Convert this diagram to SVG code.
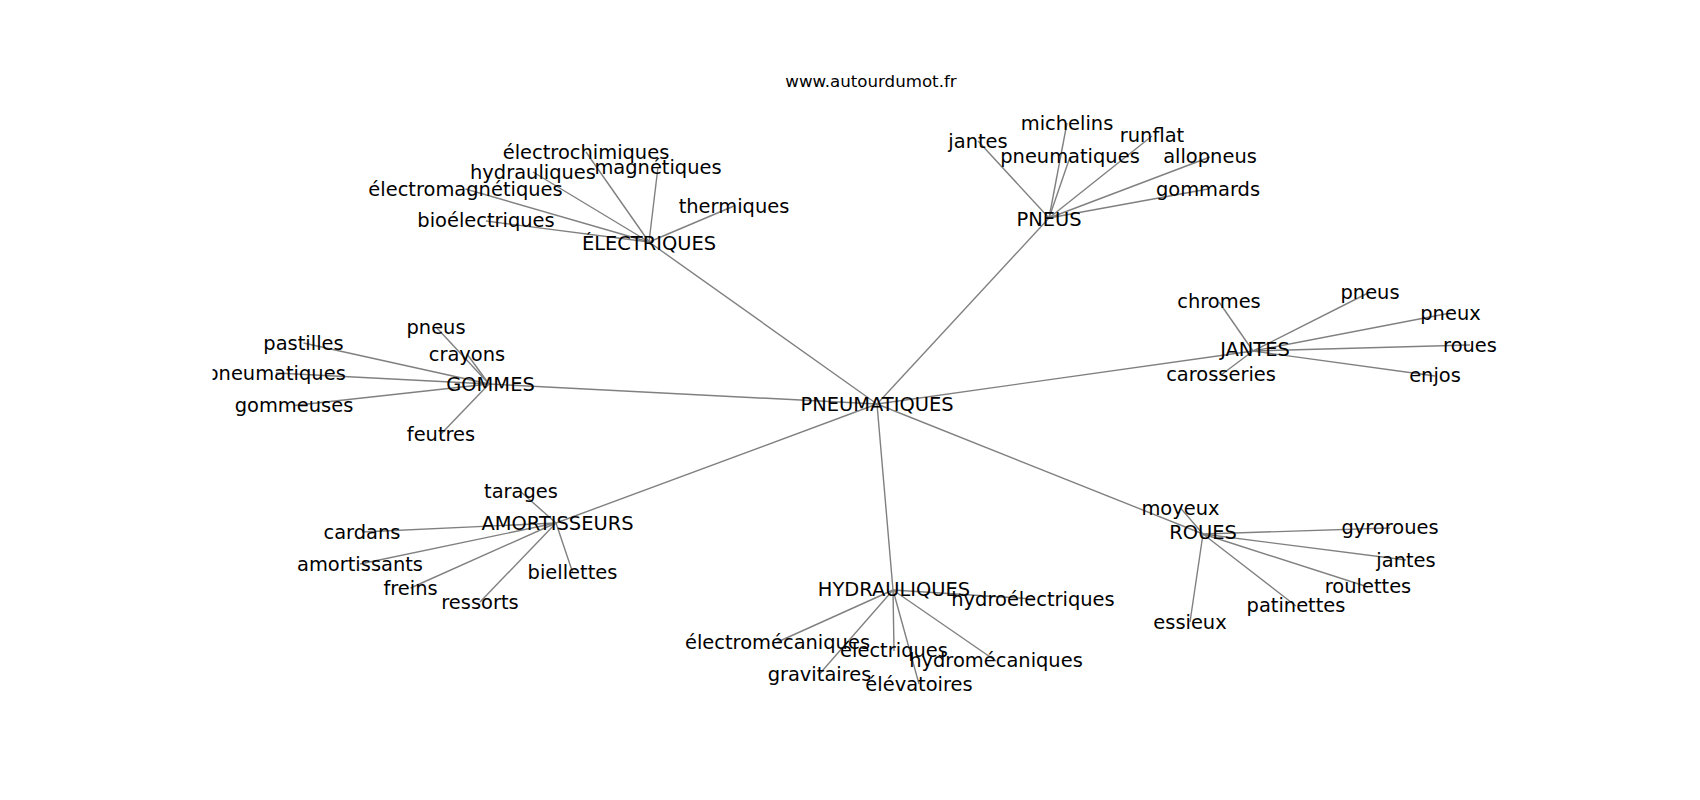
<svg xmlns="http://www.w3.org/2000/svg" width="1700" height="800" viewBox="0 0 1700 800">
<style>
  text { font-family: "DejaVu Sans", "Liberation Sans", sans-serif; font-size: 19.44px; fill: #000; text-anchor: middle; }
  .title { font-size: 16.67px; }
  #edges line { stroke: #808080; stroke-width: 1.4; }
</style>
<defs>
  <clipPath id="ax"><rect x="212.5" y="96" width="1317.5" height="616"/></clipPath>
</defs>
<rect width="1700" height="800" fill="#fff"/>
<text class="title" x="871" y="86.7">www.autourdumot.fr</text>
<g id="edges">
  <line x1="877" y1="404" x2="649" y2="242"/>
  <line x1="877" y1="404" x2="1049" y2="218"/>
  <line x1="877" y1="404" x2="489" y2="384"/>
  <line x1="877" y1="404" x2="1253" y2="351"/>
  <line x1="877" y1="404" x2="556" y2="523"/>
  <line x1="877" y1="404" x2="893" y2="590"/>
  <line x1="877" y1="404" x2="1203" y2="534"/>
  <line x1="649" y1="242" x2="586" y2="152"/>
  <line x1="649" y1="242" x2="533" y2="172"/>
  <line x1="649" y1="242" x2="658" y2="167"/>
  <line x1="649" y1="242" x2="465.5" y2="189"/>
  <line x1="649" y1="242" x2="734" y2="206"/>
  <line x1="649" y1="242" x2="486" y2="221"/>
  <line x1="1049" y1="218" x2="978" y2="141"/>
  <line x1="1049" y1="218" x2="1067" y2="123"/>
  <line x1="1049" y1="218" x2="1152" y2="136"/>
  <line x1="1049" y1="218" x2="1070" y2="157"/>
  <line x1="1049" y1="218" x2="1210" y2="157"/>
  <line x1="1049" y1="218" x2="1208" y2="189"/>
  <line x1="489" y1="384" x2="436" y2="327"/>
  <line x1="489" y1="384" x2="303.5" y2="343"/>
  <line x1="489" y1="384" x2="467" y2="354"/>
  <line x1="489" y1="384" x2="276" y2="373"/>
  <line x1="489" y1="384" x2="294" y2="405.5"/>
  <line x1="489" y1="384" x2="441" y2="434"/>
  <line x1="1253" y1="351" x2="1219" y2="302"/>
  <line x1="1253" y1="351" x2="1221" y2="375"/>
  <line x1="1253" y1="351" x2="1370" y2="292"/>
  <line x1="1253" y1="351" x2="1450.5" y2="313"/>
  <line x1="1253" y1="351" x2="1470" y2="345"/>
  <line x1="1253" y1="351" x2="1435" y2="376"/>
  <line x1="556" y1="523" x2="521" y2="492"/>
  <line x1="556" y1="523" x2="362" y2="532"/>
  <line x1="556" y1="523" x2="360" y2="564"/>
  <line x1="556" y1="523" x2="410.5" y2="588"/>
  <line x1="556" y1="523" x2="480" y2="602"/>
  <line x1="556" y1="523" x2="572.5" y2="572"/>
  <line x1="893" y1="590" x2="1033" y2="599"/>
  <line x1="893" y1="590" x2="777.5" y2="642"/>
  <line x1="893" y1="590" x2="894" y2="651"/>
  <line x1="893" y1="590" x2="996" y2="661"/>
  <line x1="893" y1="590" x2="819.5" y2="674"/>
  <line x1="893" y1="590" x2="919" y2="684"/>
  <line x1="1203" y1="534" x2="1180.5" y2="508"/>
  <line x1="1203" y1="534" x2="1190" y2="622"/>
  <line x1="1203" y1="534" x2="1296" y2="606"/>
  <line x1="1203" y1="534" x2="1390" y2="528"/>
  <line x1="1203" y1="534" x2="1406" y2="560"/>
  <line x1="1203" y1="534" x2="1368" y2="587"/>
</g>
<g clip-path="url(#ax)">
  <g id="n-pneumatiques-c"><text x="877" y="410.5">PNEUMATIQUES</text></g>
  <g id="n-electriques"><text x="649" y="249.5">ÉLECTRIQUES</text></g>
  <g id="n-electrochimiques"><text x="586" y="158.5">électrochimiques</text></g>
  <g id="n-hydrauliques-e"><text x="533" y="178.5">hydrauliques</text></g>
  <g id="n-magnetiques"><text x="658" y="173.5">magnétiques</text></g>
  <g id="n-electromagnetiques"><text x="465.5" y="195.5">électromagnétiques</text></g>
  <g id="n-thermiques"><text x="734" y="212.5">thermiques</text></g>
  <g id="n-bioelectriques"><text x="486" y="227">bioélectriques</text></g>
  <g id="n-pneus"><text x="1049" y="225.5">PNEUS</text></g>
  <g id="n-jantes-p"><text x="978" y="147.5">jantes</text></g>
  <g id="n-michelins"><text x="1067" y="129.5">michelins</text></g>
  <g id="n-runflat"><text x="1152" y="142">runflat</text></g>
  <g id="n-pneumatiques-p"><text x="1070" y="163">pneumatiques</text></g>
  <g id="n-allopneus"><text x="1210" y="163">allopneus</text></g>
  <g id="n-gommards"><text x="1208" y="195.5">gommards</text></g>
  <g id="n-jantes"><text x="1255" y="356">JANTES</text></g>
  <g id="n-chromes"><text x="1219" y="308">chromes</text></g>
  <g id="n-carosseries"><text x="1221" y="381">carosseries</text></g>
  <g id="n-pneus-j"><text x="1370" y="298.5">pneus</text></g>
  <g id="n-pneux"><text x="1450.5" y="319.5">pneux</text></g>
  <g id="n-roues-j"><text x="1470" y="351.5">roues</text></g>
  <g id="n-enjos"><text x="1435" y="382">enjos</text></g>
  <g id="n-gommes"><text x="490.5" y="390.5">GOMMES</text></g>
  <g id="n-pneus-g"><text x="436" y="333.5">pneus</text></g>
  <g id="n-pastilles"><text x="303.5" y="349.5">pastilles</text></g>
  <g id="n-crayons"><text x="467" y="360.5">crayons</text></g>
  <g id="n-pneumatiques-g"><text x="276" y="379.5">pneumatiques</text></g>
  <g id="n-gommeuses"><text x="294" y="412">gommeuses</text></g>
  <g id="n-feutres"><text x="441" y="440.5">feutres</text></g>
  <g id="n-amortisseurs"><text x="557.5" y="529.5">AMORTISSEURS</text></g>
  <g id="n-tarages"><text x="521" y="498">tarages</text></g>
  <g id="n-cardans"><text x="362" y="538.5">cardans</text></g>
  <g id="n-amortissants"><text x="360" y="570.5">amortissants</text></g>
  <g id="n-freins"><text x="410.5" y="594.5">freins</text></g>
  <g id="n-ressorts"><text x="480" y="608.5">ressorts</text></g>
  <g id="n-biellettes"><text x="572.5" y="578.5">biellettes</text></g>
  <g id="n-hydrauliques"><text x="894" y="595.5">HYDRAULIQUES</text></g>
  <g id="n-hydroelectriques"><text x="1033" y="605.5">hydroélectriques</text></g>
  <g id="n-electromecaniques"><text x="777.5" y="648.5">électromécaniques</text></g>
  <g id="n-electriques-h"><text x="894" y="657">électriques</text></g>
  <g id="n-hydromecaniques"><text x="996" y="667">hydromécaniques</text></g>
  <g id="n-gravitaires"><text x="819.5" y="680.5">gravitaires</text></g>
  <g id="n-elevatoires"><text x="919" y="690.5">élévatoires</text></g>
  <g id="n-roues"><text x="1203" y="538.5">ROUES</text></g>
  <g id="n-moyeux"><text x="1180.5" y="514.5">moyeux</text></g>
  <g id="n-essieux"><text x="1190" y="628.5">essieux</text></g>
  <g id="n-patinettes"><text x="1296" y="612">patinettes</text></g>
  <g id="n-gyroroues"><text x="1390" y="533.5">gyroroues</text></g>
  <g id="n-jantes-r"><text x="1406" y="566.5">jantes</text></g>
  <g id="n-roulettes"><text x="1368" y="593">roulettes</text></g>
</g>
</svg>
